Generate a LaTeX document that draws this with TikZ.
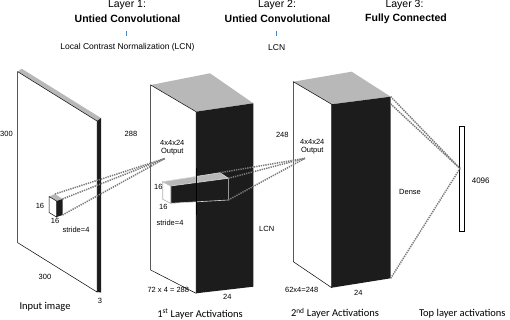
\documentclass[tikz,border=0pt]{standalone}
\usepackage{fontspec}
\setmainfont{Liberation Sans}
\newfontfamily\capfont{Carlito}
\usetikzlibrary{positioning}
\definecolor{topgray}{HTML}{B8B8B8}
\definecolor{sideblack}{HTML}{1C1C1C}
\definecolor{dotgray}{HTML}{7A7A7A}
\definecolor{tickblue}{HTML}{4A86C5}
\tikzset{
frontface/.style={
  fill=white,
  draw=black,
  line width=0.5pt
  },
topface/.style={
  fill=topgray
  },
sideface/.style={
  fill=sideblack
  },
conn/.style={
  draw=dotgray,
  line width=1.5pt,
  dash pattern=on 1.3pt off 1pt
  },
lbl/.style={
  inner sep=0pt,
  font=\fontsize{7.5}{8}\selectfont
  },
ttl/.style={
  inner sep=0pt,
  font=\fontsize{10.5}{12}\selectfont
  },
ttlb/.style={
  ttl,
  font=\fontsize{10.5}{12}\selectfont\bfseries
  },
capt/.style={
  inner sep=0pt,
  font=\capfont\fontsize{10.5}{12}\selectfont
  }
}

\begin{document}
\begin{tikzpicture}[x=1pt,y=-1pt]
\useasboundingbox (0,0) rectangle (510,320);

% titles
\node[ttl] (lay1) at (127,5) {Layer 1:};
\node[ttlb] (conv1) at (127.5,18.3) {Untied Convolutional};
\node[lbl,font=\fontsize{8.5}{9}\selectfont] (lcn1) at (127.5,47.7) {Local Contrast Normalization (LCN)};
\node[ttl] (lay2) at (277,5) {Layer 2:};
\node[ttlb] (conv2) at (277.5,18.3) {Untied Convolutional};
\node[lbl,font=\fontsize{8.5}{9}\selectfont] (lcn2) at (276.7,47.7) {LCN};
\node[ttl] (lay3) at (404.5,5) {Layer 3:};
\node[ttlb] (full3) at (406,18.3) {Fully Connected};
\draw[tickblue,line width=0.6pt] (126.7,31) -- (126.7,36);
\draw[tickblue,line width=0.6pt] (276.2,31) -- (276.2,36);

% input image
\coordinate (in-a) at (17.7,71.7);
\coordinate (in-b) at (97,121);
\coordinate (in-c) at (97,292);
\coordinate (in-d) at (17.7,242.7);
\coordinate (in-e) at (21.7,68.7);
\coordinate (in-f) at (101,118);
\coordinate (in-g) at (101,292.5);
\fill[topface] (in-a) -- (in-e) -- (in-f) -- (in-b) -- cycle;
\fill[sideface] (in-b) -- (in-f) -- (in-g) -- (in-c) -- cycle;
\draw[frontface] (in-a) -- (in-b) -- (in-c) -- (in-d) -- cycle;

% 16x16 patch
\coordinate (sc-a) at (49,196.5);
\coordinate (sc-b) at (56.5,201);
\coordinate (sc-c) at (56.5,217);
\coordinate (sc-d) at (49,212.5);
\coordinate (sc-e) at (55,194);
\coordinate (sc-f) at (62.5,199);
\coordinate (sc-g) at (62.5,215);
\fill[topface] (sc-a) -- (sc-e) -- (sc-f) -- (sc-b) -- cycle;
\fill[sideface] (sc-b) -- (sc-f) -- (sc-g) -- (sc-c) -- cycle;
\draw[frontface] (sc-a) -- (sc-b) -- (sc-c) -- (sc-d) -- cycle;

% 1st layer
\coordinate (l1-a) at (150.7,85);
\coordinate (l1-b) at (196,111.7);
\coordinate (l1-c) at (196,293.3);
\coordinate (l1-d) at (150.7,270);
\coordinate (l1-e) at (210,73.3);
\coordinate (l1-f) at (253.3,103.3);
\coordinate (l1-g) at (253.3,286.7);
\fill[topface] (l1-a) -- (l1-e) -- (l1-f) -- (l1-b) -- cycle;
\fill[sideface] (l1-b) -- (l1-f) -- (l1-g) -- (l1-c) -- cycle;
\draw[frontface] (l1-a) -- (l1-b) -- (l1-c) -- (l1-d) -- cycle;

% output bar
\coordinate (br-a) at (162.7,181.7);
\coordinate (br-b) at (170.7,186);
\coordinate (br-c) at (170.7,203.3);
\coordinate (br-d) at (162.7,199.3);
\coordinate (br-e) at (220,172.7);
\coordinate (br-f) at (228.3,178.3);
\coordinate (br-g) at (228.3,200);
\filldraw[topface,draw=gray!30,line width=0.6pt] (br-a) -- (br-e) -- (br-f) -- (br-b) -- cycle;
\filldraw[sideface,draw=gray!30,line width=0.6pt] (br-b) -- (br-f) -- (br-g) -- (br-c) -- cycle;
\filldraw[fill=white,draw=gray!60,line width=0.6pt] (br-a) -- (br-b) -- (br-c) -- (br-d) -- cycle;
\coordinate (ed-top) at (196.7,168.3);
\coordinate (ed-bot) at (196.7,215);
\draw[line width=0.8pt] (ed-top) -- (ed-bot);

% 2nd layer
\coordinate (l2-a) at (293.3,81.7);
\coordinate (l2-b) at (331.7,104.3);
\coordinate (l2-c) at (331.7,287.7);
\coordinate (l2-d) at (293.3,261.7);
\coordinate (l2-e) at (351.7,71.7);
\coordinate (l2-f) at (390.7,96.7);
\coordinate (l2-g) at (390.7,278.3);
\coordinate (l2-h) at (390.7,104);
\fill[topface] (l2-a) -- (l2-e) -- (l2-f) -- (l2-b) -- cycle;
\fill[sideface] (l2-b) -- (l2-f) -- (l2-g) -- (l2-c) -- cycle;
\draw[frontface] (l2-a) -- (l2-b) -- (l2-c) -- (l2-d) -- cycle;

% top layer
\node[draw,fill=white,line width=0.8pt,inner sep=0pt,minimum width=5pt,minimum height=105pt]
  (toplay) at (461.8,179.2) {};

\coordinate (apex1) at (165,158.5);
\coordinate (apex2) at (305,158.3);
\coordinate (apex3) at (460,168.5);

\draw[conn] (sc-e) -- (apex1);
\draw[conn] (sc-f) -- (apex1);
\draw[conn] (sc-g) -- (apex1);
\draw[conn] (br-e) -- (apex2);
\draw[conn] (br-f) -- (apex2);
\draw[conn] (br-g) -- (apex2);
\draw[conn] (l2-f) -- (apex3);
\draw[conn] (l2-h) -- (apex3);
\draw[conn] (l2-g) -- (apex3);

% labels
\node[lbl] (in-h) at (6.5,134) {300};
\node[lbl] (in-w) at (45,277) {300};
\node[lbl] (in-dp) at (100,300.7) {3};
\node[lbl] (sc-h) at (40,206) {16};
\node[lbl] (sc-w) at (55,221) {16};
\node[lbl] (sc-s) at (76,230) {stride=4};
\node[lbl] (l1-h) at (131,134) {288};
\node[lbl] (l1-o) at (172.3,142.7) {4x4x24};
\node[lbl,below=3pt of l1-o] (l1-out) {Output};
\node[lbl] (br-h) at (158.3,187.3) {16};
\node[lbl] (br-w) at (163.3,207.3) {16};
\node[lbl] (br-s) at (170,223.3) {stride=4};
\node[lbl] (l1-lcn) at (266.7,229.3) {LCN};
\node[lbl] (l1-w) at (168.3,290) {72 x 4 = 288};
\node[lbl] (l1-dp) at (227.3,297.3) {24};
\node[lbl] (l2-hh) at (282.3,134.5) {248};
\node[lbl] (l2-o) at (312.3,141.7) {4x4x24};
\node[lbl,below=3pt of l2-o] (l2-out) {Output};
\node[lbl] (l2-w) at (301.7,290) {62x4=248};
\node[lbl] (l2-dp) at (358.3,292.7) {24};
\node[lbl] (dense) at (410,191.7) {Dense};
\node[lbl,font=\fontsize{8}{9}\selectfont] (units) at (480.7,180.7) {4096};

\node[capt] (cap-in) at (45,307) {Input image};
\node[capt] (cap-l1) at (200,314) {1\textsuperscript{st} Layer Activations};
\node[capt] (cap-l2) at (335,313.3) {2\textsuperscript{nd} Layer Activations};
\node[capt] (cap-top) at (462.3,313.3) {Top layer activations};
\end{tikzpicture}
\end{document}
